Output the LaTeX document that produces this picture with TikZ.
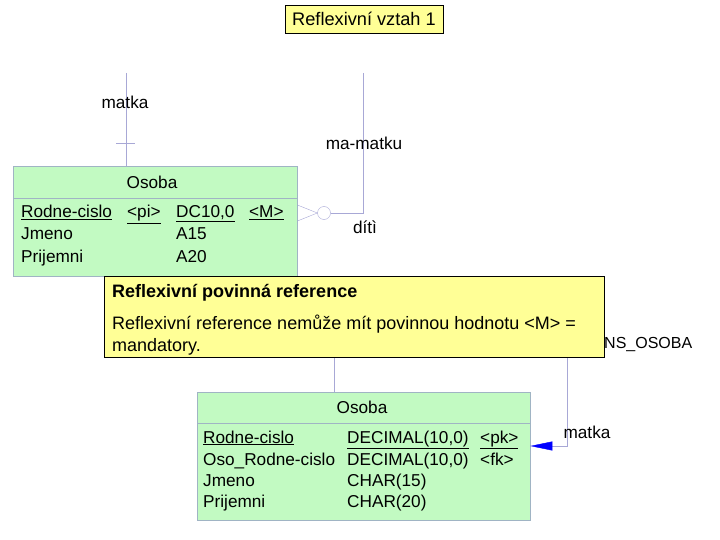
\documentclass[tikz,border=0pt]{standalone}
\usepackage{fontspec}
\setmainfont{Liberation Sans}
\usetikzlibrary{positioning,arrows.meta,calc}
\definecolor{entgreen}{RGB}{194,250,194}
\definecolor{entborder}{RGB}{160,180,196}
\definecolor{relline}{RGB}{168,168,214}
\definecolor{noteyellow}{RGB}{255,255,150}
\tikzset{
    entity/.style={
        rectangle, draw=entborder, fill=entgreen,
        anchor=north west, inner sep=0pt
    },
    attr/.style={
        anchor=base west, inner sep=0pt, font=\fontsize{17.2}{20}\selectfont
    },
    rel/.style={
        draw=relline, thin
    },
    rellabel/.style={
        inner sep=0pt, font=\fontsize{17.2}{20}\selectfont
    },
    notebox/.style={
        rectangle, draw=black, fill=noteyellow, anchor=north west, inner sep=0pt
    },
    notetext/.style={
        anchor=base west, inner sep=0pt, font=\fontsize{18}{21}\selectfont
    }
}

\begin{document}
\begin{tikzpicture}[x=1pt, y=-1pt]
    \useasboundingbox (0,0) rectangle (720,540);

    % Title
    \node[draw=black, fill=noteyellow, minimum width=158pt, minimum height=28pt,
          inner sep=0pt, font=\fontsize{18.2}{21}\selectfont] (title) at (364,19) {Reflexivní vztah 1};

    % Conceptual entity
    \node[entity, minimum width=284pt, minimum height=110pt] (osoba1) at (13,166) {};
    \draw[entborder] (13,198) -- (297,198);
    \node[rellabel] (osoba1name) at (152,182) {Osoba};
    \node[attr] (a1) at (21,218) {\underline{Rodne-cislo}};
    \node[attr] (a1k) at (127,218) {\underline{<pi>}};
    \node[attr] (a1t) at (176,218) {\underline{DC10,0}};
    \node[attr] (a1m) at (249,218) {\underline{<M>}};
    \node[attr] (a2) at (21,240) {Jmeno};
    \node[attr] (a2t) at (176,240) {A15};
    \node[attr] (a3) at (21,262) {Prijemni};
    \node[attr] (a3t) at (176,262) {A20};

    % Relationship matka / ma-matku
    \coordinate (top1) at (126,73);
    \coordinate (top2) at (363,73);
    \draw[rel] (top1) -- (top1 |- osoba1.north);
    \draw[rel] (116,143) -- (135,143);
    \node[circle, draw=relline, fill=white, minimum size=13pt, inner sep=0pt] (circ) at (324,213) {};
    \draw[rel] (top2) |- (circ.east);
    \draw[rel] (circ.west) -- (osoba1.east |- 0,205);
    \draw[rel] (circ.west) -- (osoba1.east |- 0,221);
    \node[rellabel] (lmatka1) at (125,102) {matka};
    \node[rellabel] (lmamatku) at (364,143) {ma-matku};
    \node[rellabel] (ldite) at (365,227) {dítì};

    % Physical table
    \node[entity, minimum width=333pt, minimum height=128pt] (osoba2) at (197,392) {};
    \draw[entborder] (197,423) -- (530,423);
    \node[rellabel] (osoba2name) at (362,407) {Osoba};
    \node[attr] (b1) at (203,443) {\underline{Rodne-cislo}};
    \node[attr] (b1t) at (347,443) {\underline{DECIMAL(10,0)}};
    \node[attr] (b1k) at (480,443) {\underline{<pk>}};
    \node[attr] (b2) at (203,465) {Oso\_Rodne-cislo};
    \node[attr] (b2t) at (347,465) {DECIMAL(10,0)};
    \node[attr] (b2k) at (480,465) {<fk>};
    \node[attr] (b3) at (203,486) {Jmeno};
    \node[attr] (b3t) at (347,486) {CHAR(15)};
    \node[attr] (b4) at (203,507) {Prijemni};
    \node[attr] (b4t) at (347,507) {CHAR(20)};

    % Reference
    \coordinate (top3) at (334,330);
    \coordinate (top4) at (567,330);
    \draw[rel] (top3) -- (top3 |- osoba2.north);
    \draw[rel, -{Triangle[length=22pt, width=9pt, color=blue]}] (top4) |- (osoba2.east |- 0,446);
    \node[rellabel] (lmatka2) at (587,432) {matka};
    \node[rellabel, anchor=west, font=\fontsize{16}{19}\selectfont] (lref) at (604,345) {NS\_OSOBA};

    % Note
    \node[notebox, minimum width=500pt, minimum height=81pt] (note) at (104,276) {};
    \node[notetext, font=\fontsize{18}{21}\selectfont\bfseries] (notetitle) at (112,297) {Reflexivní povinná reference};
    \node[notetext] (notetext1) at (112,329) {Reflexivní reference nemůže mít povinnou hodnotu <M> =};
    \node[notetext] (notetext2) at (112,351) {mandatory.};

\end{tikzpicture}
\end{document}
